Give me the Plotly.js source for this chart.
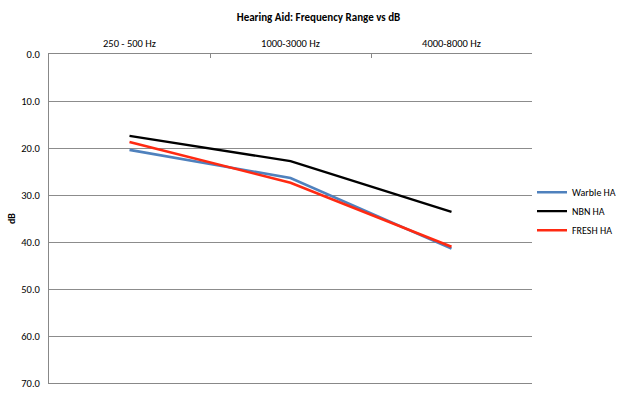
<!DOCTYPE html>
<html>
<head>
<meta charset="utf-8">
<script src="https://cdn.plot.ly/plotly-3.0.1.min.js"></script>
<style>html,body{margin:0;padding:0;background:#fff}#chart{width:637px;height:402px}</style>
</head>
<body>
<div id="chart"></div>
<script>
const categories = ["250 - 500 Hz", "1000-3000 Hz", "4000-8000 Hz"];
const warble = [20.4, 26.4, 41.4];
const nbn = [17.4, 22.8, 33.6];
const fresh = [18.7, 27.4, 41.0];
const seriesNames = ["Warble HA", "NBN HA", "FRESH HA"];

const font = "Carlito, Liberation Sans Narrow, Liberation Sans, Arial, sans-serif";
const traces = [
  {x: categories, y: warble, name: seriesNames[0], mode: "lines", line: {color: "#4f81bd", width: 2.6}},
  {x: categories, y: nbn, name: seriesNames[1], mode: "lines", line: {color: "#000000", width: 2.3}},
  {x: categories, y: fresh, name: seriesNames[2], mode: "lines", line: {color: "#ff2a12", width: 2.6}}
];
const layout = {
  width: 637, height: 402,
  margin: {l: 49, r: 105, t: 54, b: 19},
  paper_bgcolor: "#fff", plot_bgcolor: "#fff",
  font: {family: font, size: 10, color: "#000"},
  title: {text: "<b>Hearing Aid: Frequency Range vs dB</b>", x: 0.5, xanchor: "center", y: 0.958, yanchor: "middle", font: {family: font, size: 11, color: "#000"}},
  xaxis: {
    side: "top", type: "category", range: [-0.5, 2.5], showgrid: false, showline: true, linecolor: "#888", linewidth: 1,
    mirror: true, ticks: "inside", ticklen: 4, tickcolor: "#888", tickson: "boundaries",
    tickfont: {size: 10.5, family: font}, fixedrange: true, zeroline: false, ticklabelstandoff: 2
  },
  yaxis: {
    range: [70, 0], dtick: 10, tick0: 0, tickformat: ".1f", showgrid: true, gridcolor: "#8c8c8c", gridwidth: 1,
    showline: true, linecolor: "#888", linewidth: 1, ticks: "", zeroline: false,
    tickfont: {size: 10.5, family: font}, ticklabelstandoff: 6,
    title: {text: "<b>dB</b>", font: {size: 10, family: font}, standoff: 3}
  },
  showlegend: true,
  legend: {x: 1.0, xanchor: "left", y: 0.624, yanchor: "top", font: {size: 10, family: font}, tracegroupgap: 0, itemwidth: 30, bgcolor: "rgba(0,0,0,0)"}
};
Plotly.newPlot("chart", traces, layout, {displayModeBar: false, staticPlot: true});
</script>
</body>
</html>
